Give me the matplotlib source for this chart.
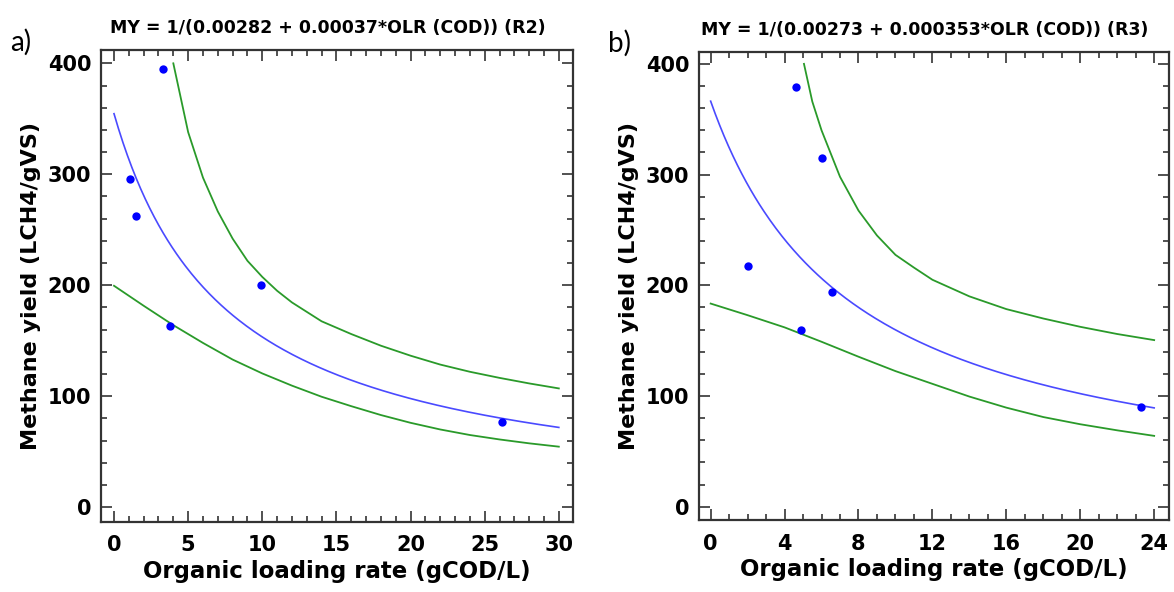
import numpy as np
import matplotlib.pyplot as plt
from matplotlib.ticker import MultipleLocator

plt.rcParams['font.family'] = ['DejaVu Sans']

# R2: measured points
olr_r2 = [1.1, 1.5, 3.3, 3.8, 9.9, 26.2]
my_r2 = [296, 262, 395, 163, 200, 77]
# R2: fitted model coefficients MY = 1/(a + b*OLR)
coef_r2 = (0.00282, 0.00037)
# R2: upper / lower limits
up_x_r2 = [4, 5, 6, 7, 8, 9, 10, 11, 12, 14, 16, 18, 20, 22, 24, 26, 28, 30]
up_y_r2 = [400, 338, 297, 266.5, 242, 222, 207.5, 195, 184.5, 167.5, 156, 145.5, 136.5,
           128.5, 122, 116.5, 111.5, 107]
lo_x_r2 = [0, 2, 4, 6, 8, 10, 12, 14, 16, 18, 20, 22, 24, 26, 28, 30]
lo_y_r2 = [199.5, 181.5, 164, 148, 133, 120.5, 109.5, 99.5, 91, 83, 76, 70, 65, 61, 57.5, 54.5]

# R3: measured points
olr_r3 = [2.0, 4.6, 4.9, 6.0, 6.55, 23.3]
my_r3 = [217, 379, 160, 315, 194, 90]
coef_r3 = (0.00273, 0.000353)
up_x_r3 = [5.05, 5.5, 6, 7, 8, 9, 10, 11, 12, 14, 16, 18, 20, 22, 24]
up_y_r3 = [400, 366, 340, 298, 267.5, 245, 227.5, 216, 205, 190, 178.5, 170, 162.5, 156, 150.5]
lo_x_r3 = [0, 2, 4, 6, 8, 10, 12, 14, 16, 18, 20, 22, 24]
lo_y_r3 = [183.5, 173, 162, 149, 135.5, 122.5, 111, 99.5, 89.5, 81, 74.5, 69, 64]

fig = plt.figure(figsize=(11.74, 5.92), dpi=100)
ax_a = fig.add_axes([0.086, 0.119, 0.402, 0.7965])
ax_b = fig.add_axes([0.5954, 0.1216, 0.4003, 0.7911])


def draw_panel(ax, olr, my, coef, up_x, up_y, lo_x, lo_y, xmax, xlim, ylim, xmajor, title):
    x = np.linspace(0, xmax, 300)
    a, b = coef
    ax.plot(x, 1.0 / (a + b * x), color='#4a4aff', lw=1.2)
    ax.plot(up_x, up_y, color='#2a9a2a', lw=1.3)
    ax.plot(lo_x, lo_y, color='#2a9a2a', lw=1.3)
    ax.plot(olr, my, 'o', color='#0000ff', ms=6, mec='none')
    ax.set_xlim(*xlim)
    ax.set_ylim(*ylim)
    ax.xaxis.set_major_locator(MultipleLocator(xmajor))
    ax.xaxis.set_minor_locator(MultipleLocator(1))
    ax.yaxis.set_major_locator(MultipleLocator(100))
    ax.yaxis.set_minor_locator(MultipleLocator(20))
    ax.tick_params(which='both', direction='in', top=True, right=True,
                   color='#333333', width=1.2)
    ax.tick_params(which='major', length=8, labelsize=15)
    ax.tick_params(which='minor', length=4.5)
    ax.tick_params(axis='x', pad=10)
    ax.tick_params(axis='y', pad=7)
    for lbl in ax.get_xticklabels() + ax.get_yticklabels():
        lbl.set_fontweight('bold')
    for sp in ax.spines.values():
        sp.set_color('#333333')
        sp.set_linewidth(1.6)
    ax.set_xlabel('Organic loading rate (gCOD/L)', fontsize=16.5, fontweight='bold', labelpad=3)
    ax.set_ylabel('Methane yield (LCH4/gVS)', fontsize=16, fontweight='bold', labelpad=5)
    ax.set_title(title, fontsize=12.5, fontweight='bold', x=0.48, pad=12)


draw_panel(ax_a, olr_r2, my_r2, coef_r2, up_x_r2, up_y_r2, lo_x_r2, lo_y_r2,
           30, (-0.88, 30.95), (-13, 412), 5,
           'MY = 1/(0.00282 + 0.00037*OLR (COD)) (R2)')
draw_panel(ax_b, olr_r3, my_r3, coef_r3, up_x_r3, up_y_r3, lo_x_r3, lo_y_r3,
           24, (-0.63, 24.8), (-12, 411), 4,
           'MY = 1/(0.00273 + 0.000353*OLR (COD)) (R3)')

fig.text(0.009, 0.915, 'a)', fontsize=20, family=['Lato', 'DejaVu Sans'])
fig.text(0.518, 0.912, 'b)', fontsize=20, family=['Lato', 'DejaVu Sans'])

fig.savefig('out.png', dpi=100)
plt.close(fig)
